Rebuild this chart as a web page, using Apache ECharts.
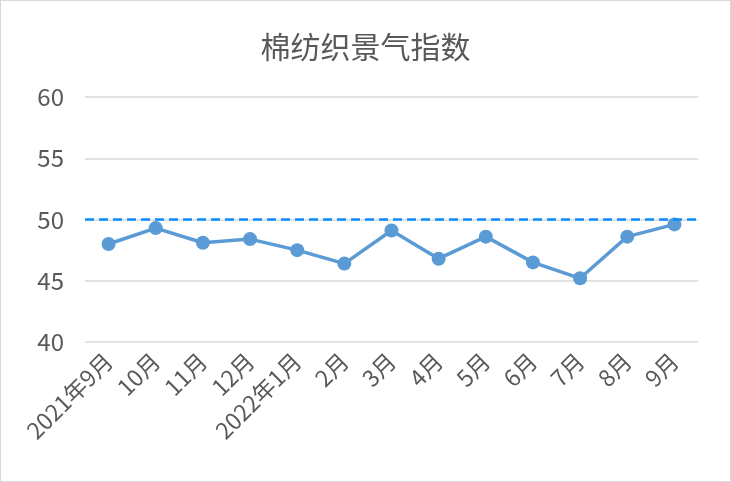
<!DOCTYPE html>
<html><head><meta charset="utf-8">
<script src="https://cdn.jsdelivr.net/npm/echarts@6/dist/echarts.min.js"></script>
<style>
html,body{margin:0;padding:0;background:#fff;}
#c{position:absolute;left:0;top:0;width:729px;height:480px;border:1px solid #d9d9d9;}
</style></head>
<body><div id="c"></div>
<script>
const categories = ['2021年9月','10月','11月','12月','2022年1月','2月','3月','4月','5月','6月','7月','8月','9月'];
const values = [48.0, 49.3, 48.1, 48.4, 47.5, 46.4, 49.1, 46.8, 48.6, 46.5, 45.2, 48.6, 49.6];
const yTicks = [40, 45, 50, 55, 60];
const refLine = 50;
const title = '棉纺织景气指数';

const chart = echarts.init(document.getElementById('c'));
const font = '"Noto Sans CJK SC", "Microsoft YaHei", sans-serif';
chart.setOption({
  animation: false,
  title: {text: title, left: 'center', top: 26,
    textStyle: {fontFamily: font, fontSize: 30, fontWeight: 'normal', color: '#595959'}},
  grid: {left: 84, right: 32, top: 96, bottom: 139},
  xAxis: {type: 'category', data: categories, boundaryGap: true,
    axisLine: {show: false}, axisTick: {show: false},
    axisLabel: {rotate: 45, fontFamily: font, fontSize: 23, color: '#595959', margin: 15, interval: 0}},
  yAxis: {type: 'value', min: yTicks[0], max: yTicks[yTicks.length-1], interval: 5,
    axisLine: {show: false}, axisTick: {show: false},
    axisLabel: {fontFamily: font, fontSize: 24, color: '#595959', margin: 21}, 
    splitLine: {lineStyle: {color: '#d9d9d9', width: 1.5}}},
  series: [{type: 'line', data: values, symbol: 'circle', symbolSize: 14,
    lineStyle: {color: '#5B9BD5', width: 3.5}, itemStyle: {color: '#5B9BD5'},
    markLine: {silent: true, symbol: 'none', label: {show: false},
      lineStyle: {color: '#0A8CFF', type: [9, 5], width: 2.5},
      data: [{yAxis: refLine}]}}]
});
</script></body></html>
